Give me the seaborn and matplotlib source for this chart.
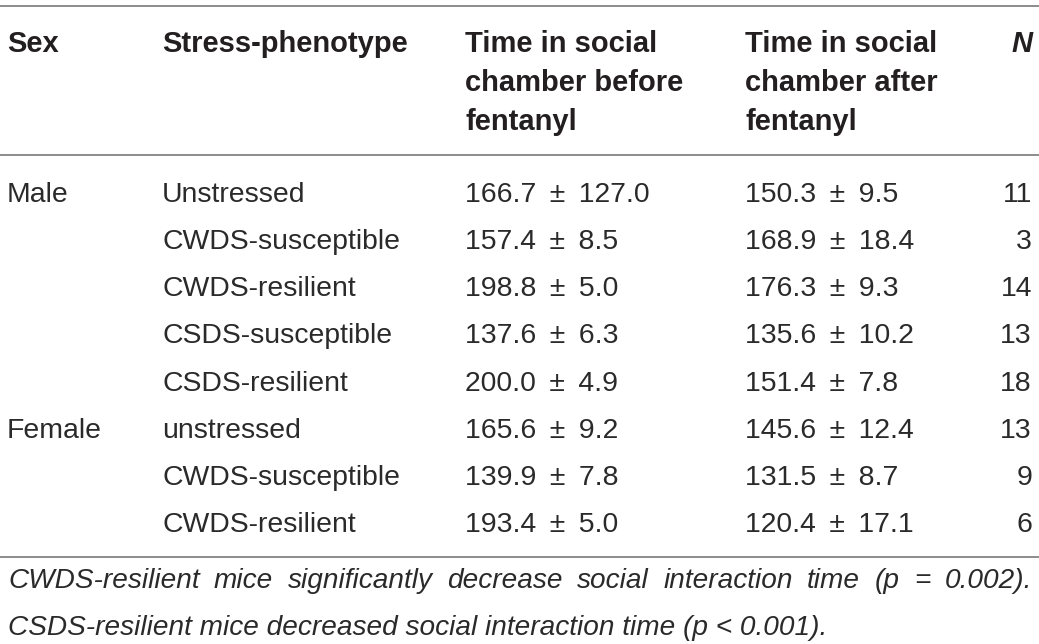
import matplotlib
matplotlib.use("Agg")
import matplotlib.pyplot as plt
import seaborn as sns

sex = ["Male", "", "", "", "", "Female", "", ""]
phenotype = ["Unstressed", "CWDS-susceptible", "CWDS-resilient", "CSDS-susceptible",
             "CSDS-resilient", "unstressed", "CWDS-susceptible", "CWDS-resilient"]
before_mean = ["166.7", "157.4", "198.8", "137.6", "200.0", "165.6", "139.9", "193.4"]
before_sem = ["127.0", "8.5", "5.0", "6.3", "4.9", "9.2", "7.8", "5.0"]
after_mean = ["150.3", "168.9", "176.3", "135.6", "151.4", "145.6", "131.5", "120.4"]
after_sem = ["9.5", "18.4", "9.3", "10.2", "7.8", "12.4", "8.7", "17.1"]
n_values = ["11", "3", "14", "13", "18", "13", "9", "6"]
headers = [["Sex"], ["Stress-phenotype"],
           ["Time in social", "chamber before", "fentanyl"],
           ["Time in social", "chamber after", "fentanyl"]]
n_header = "N"
footnote = ["CWDS-resilient mice significantly decrease social interaction time (p = 0.002).",
            "CSDS-resilient mice decreased social interaction time (p < 0.001)."]

sns.set_theme(style="white")
plt.rcParams['font.family'] = ['Liberation Sans', 'DejaVu Sans']

W, H = 1039, 644
fig = plt.figure(figsize=(W / 100, H / 100), dpi=100)
ax = fig.add_axes([0, 0, 1, 1])
ax.set_xlim(0, W)
ax.set_ylim(H, 0)
ax.axis("off")

txt = "#231f20"
body_c = "#2a2a2a"
line_c = "#8c8c8c"
fs_head = 21
fs_body = 20.4
fs_foot = 20.2
col_x = [7, 162, 465, 745]
n_x = 1032

for y in [5.5, 155, 557]:
    ax.plot([0, W], [y, y], color=line_c, lw=1.4, solid_capstyle="butt")

# headers
head_base = [51.7, 91, 130]
for i, lines in enumerate(headers):
    for k, h in enumerate(lines):
        ax.text(col_x[i], head_base[k], h, fontsize=fs_head, fontweight="bold",
                color=txt, va="baseline", ha="left")
ax.text(n_x, head_base[0], n_header, fontsize=fs_head, fontweight="bold",
        fontstyle="italic", color=txt, va="baseline", ha="right")

pm = "\u2009\u00b1 \u2009"
row_base = [201.7 + 47.2 * i for i in range(len(phenotype))]
for i, y in enumerate(row_base):
    ax.text(col_x[0], y, sex[i], fontsize=fs_body, color=body_c, va="baseline", ha="left")
    ax.text(col_x[1], y, phenotype[i], fontsize=fs_body, color=body_c, va="baseline", ha="left")
    ax.text(col_x[2], y, f"{before_mean[i]} {pm}{before_sem[i]}", fontsize=fs_body,
            color=body_c, va="baseline", ha="left")
    ax.text(col_x[3], y, f"{after_mean[i]} {pm}{after_sem[i]}", fontsize=fs_body,
            color=body_c, va="baseline", ha="left")
    ax.text(n_x, y, n_values[i], fontsize=fs_body, color=body_c, va="baseline", ha="right")

# footnote: first line justified, second line left-aligned
renderer = fig.canvas.get_renderer()
foot_base = [588, 635]
words = footnote[0].split(" ")
objs = [ax.text(0, foot_base[0], w, fontsize=fs_foot, fontstyle="italic", color=body_c,
                va="baseline", ha="left") for w in words]
widths = [o.get_window_extent(renderer).width for o in objs]
left, right = 8, 1032
gap = (right - left - sum(widths)) / (len(words) - 1)
x = left
for o, w in zip(objs, widths):
    o.set_x(x)
    x += w + gap
ax.text(left, foot_base[1], footnote[1], fontsize=fs_foot, fontstyle="italic",
        color=body_c, va="baseline", ha="left")

fig.savefig("out.png", dpi=100, facecolor="white")
